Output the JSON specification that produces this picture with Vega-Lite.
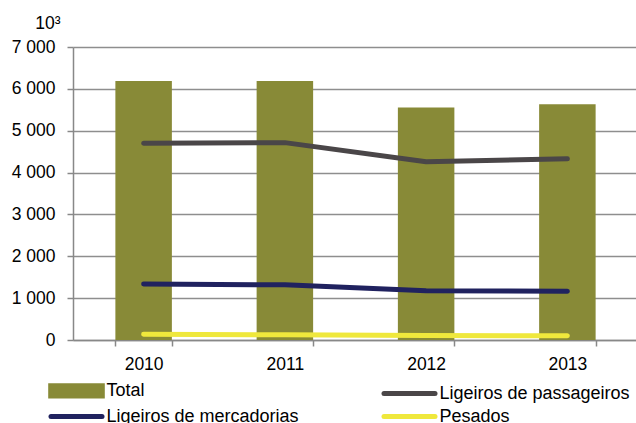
{
  "$schema": "https://vega.github.io/schema/vega-lite/v6.json",
  "width": 565,
  "height": 293,
  "autosize": {"type": "none"},
  "padding": {"left": 73, "top": 47, "right": 0, "bottom": 83},
  "background": "white",
  "config": {"view": {"stroke": null}, "font": "Liberation Sans"},
  "data": {
    "values": [
      {"year": "2010", "series": "Total", "value": 6185},
      {"year": "2011", "series": "Total", "value": 6185},
      {"year": "2012", "series": "Total", "value": 5552},
      {"year": "2013", "series": "Total", "value": 5630},
      {"year": "2010", "series": "Ligeiros de passageiros", "value": 4700},
      {"year": "2011", "series": "Ligeiros de passageiros", "value": 4715},
      {"year": "2012", "series": "Ligeiros de passageiros", "value": 4257},
      {"year": "2013", "series": "Ligeiros de passageiros", "value": 4328},
      {"year": "2010", "series": "Ligeiros de mercadorias", "value": 1340},
      {"year": "2011", "series": "Ligeiros de mercadorias", "value": 1318},
      {"year": "2012", "series": "Ligeiros de mercadorias", "value": 1179},
      {"year": "2013", "series": "Ligeiros de mercadorias", "value": 1162},
      {"year": "2010", "series": "Pesados", "value": 138},
      {"year": "2011", "series": "Pesados", "value": 124},
      {"year": "2012", "series": "Pesados", "value": 108},
      {"year": "2013", "series": "Pesados", "value": 100}
    ]
  },
  "encoding": {
    "x": {
      "field": "year",
      "type": "nominal",
      "scale": {"paddingInner": 0.6, "paddingOuter": 0.3},
      "axis": {
        "title": null,
        "labelAngle": 0,
        "labelFontSize": 17.5,
        "labelColor": "#000000",
        "tickBand": "extent",
        "tickSize": 6,
        "tickWidth": 1.5,
        "tickColor": "#888888",
        "domainColor": "#888888",
        "domainWidth": 1.5,
        "labelPadding": 9,
        "grid": false
      }
    },
    "y": {
      "field": "value",
      "type": "quantitative",
      "scale": {"domain": [0, 7000], "nice": false},
      "axis": {
        "title": "10³",
        "titleAngle": 0,
        "titleFontSize": 17.5,
        "titleFontWeight": "normal",
        "titleColor": "#000000",
        "titleAlign": "right",
        "titleBaseline": "alphabetic",
        "titleX": -13,
        "titleY": -19,
        "values": [0, 1000, 2000, 3000, 4000, 5000, 6000, 7000],
        "labelExpr": "replace(format(datum.value, ','), ',', ' ')",
        "labelFontSize": 17.5,
        "labelColor": "#000000",
        "labelPadding": 12,
        "tickSize": 6,
        "tickWidth": 1.5,
        "tickColor": "#888888",
        "grid": true,
        "gridColor": "#8e8e8e",
        "gridWidth": 1.3,
        "domainColor": "#888888",
        "domainWidth": 1.5
      }
    },
    "color": {
      "field": "series",
      "type": "nominal",
      "scale": {
        "domain": ["Total", "Ligeiros de passageiros", "Ligeiros de mercadorias", "Pesados"],
        "range": ["#888a37", "#4a4648", "#20225f", "#efe83c"]
      },
      "legend": {
        "title": null,
        "orient": "none",
        "direction": "horizontal",
        "legendX": -5.5,
        "legendY": 334.5,
        "columns": 2,
        "columnPadding": 74,
        "rowPadding": 0,
        "labelFontSize": 18,
        "labelColor": "#000000",
        "labelLimit": 400,
        "labelOffset": 21,
        "symbolSize": 100,
        "symbolStrokeWidth": 5,
        "encode": {
          "symbols": {
            "update": {
              "shape": {"signal": "datum.value === 'Total' ? 'M-5.16,-1.04H5.16V1.04H-5.16Z' : 'M-5.1,0H5.1'"},
              "fill": {"signal": "datum.value === 'Total' ? '#888a37' : 'transparent'"},
              "stroke": {"signal": "datum.value === 'Total' ? 'transparent' : scale('color', datum.value)"},
              "strokeWidth": {"value": 5},
              "strokeCap": {"value": "round"},
              "opacity": {"value": 1},
              "fillOpacity": {"value": 1},
              "strokeOpacity": {"value": 1}
            }
          }
        }
      }
    }
  },
  "layer": [
    {
      "transform": [{"filter": "datum.series === 'Total'"}],
      "mark": {"type": "bar", "opacity": 1}
    },
    {
      "transform": [{"filter": "datum.series !== 'Total'"}],
      "mark": {"type": "line", "strokeWidth": 5, "strokeCap": "round", "strokeJoin": "round"}
    }
  ]
}
